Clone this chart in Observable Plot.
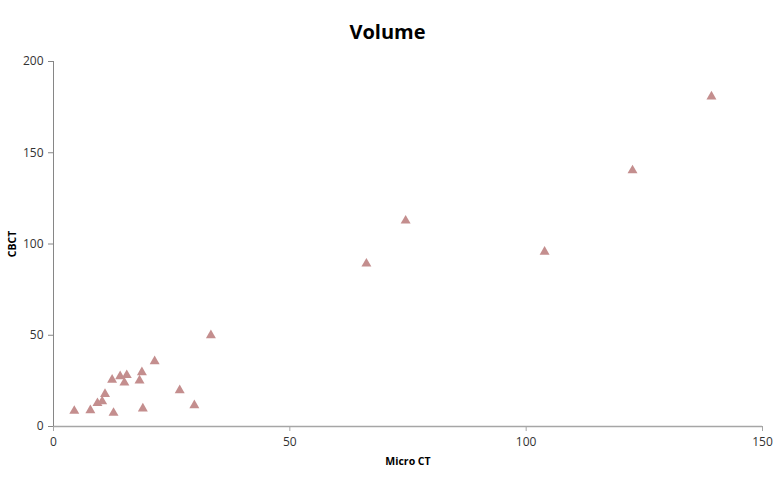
<!DOCTYPE html>
<html>
<head>
<meta charset="utf-8">
<script src="https://cdn.jsdelivr.net/npm/d3@7"></script>
<script src="https://cdn.jsdelivr.net/npm/@observablehq/plot@0.6"></script>
<style>
  html, body { margin: 0; padding: 0; background: #fff; }
  #wrap { width: 775px; height: 481px; overflow: hidden; }
  #title { height: 50px; line-height: 64px; text-align: center; font-family: "Open Sans", sans-serif; font-weight: bold; font-size: 20px; color: #000; padding-left: 0px; }
  svg { display: block; }
</style>
</head>
<body>
<div id="wrap">
  <div id="title">Volume</div>
  <div id="chart"></div>
</div>
<script>
const microCT = [4.4, 7.8, 9.3, 10.3, 10.9, 12.4, 12.7, 14.1, 15.0, 15.5, 18.2, 18.7, 18.9, 21.4, 26.7, 29.8, 33.3, 66.2, 74.5, 103.9, 122.5, 139.2];
const cbct    = [8.5, 8.9, 12.8, 13.7, 17.8, 25.6, 7.4, 27.5, 24.0, 28.1, 25.2, 29.7, 9.8, 35.7, 19.8, 11.6, 50.0, 89.2, 112.8, 95.7, 140.3, 180.8];
const xTicks = [0, 50, 100, 150];
const yTicks = [0, 50, 100, 150, 200];

const data = microCT.map((x, i) => ({x, y: cbct[i]}));

const plot = Plot.plot({
  width: 775,
  height: 431,
  marginLeft: 53,
  marginRight: 13,
  marginTop: 11,
  marginBottom: 55,
  style: { fontFamily: "'Open Sans', sans-serif", fontSize: "12px", color: "#333", background: "#fff" },
  x: { domain: [0, 150] },
  y: { domain: [0, 200] },
  marks: [
    Plot.ruleY([0], { stroke: "#a6a6a6", strokeWidth: 1.3 }),
    Plot.ruleX([0], { stroke: "#868686", strokeWidth: 1 }),
    Plot.axisX({ ticks: xTicks, tickSize: 5, tickPadding: 6, stroke: "#a6a6a6", label: "Micro CT", labelAnchor: "center", labelArrow: "none", labelOffset: 38, fontSize: 12 }),
    Plot.axisY({ ticks: yTicks, tickSize: 5, tickPadding: 5, stroke: "#868686", label: "CBCT", labelAnchor: "center", labelArrow: "none", labelOffset: 45, fontSize: 12 }),
    Plot.dot(data, { x: "x", y: "y", symbol: "triangle", r: 3.7, fill: "#c48e8e", stroke: "none" })
  ]
});
document.getElementById("chart").appendChild(plot);
plot.querySelectorAll("g[aria-label='x-axis label'] text, g[aria-label='y-axis label'] text").forEach(t => {
  t.setAttribute("font-weight", "bold");
  t.setAttribute("font-size", "10.5");
  t.setAttribute("fill", "#000");
});
</script>
</body>
</html>
